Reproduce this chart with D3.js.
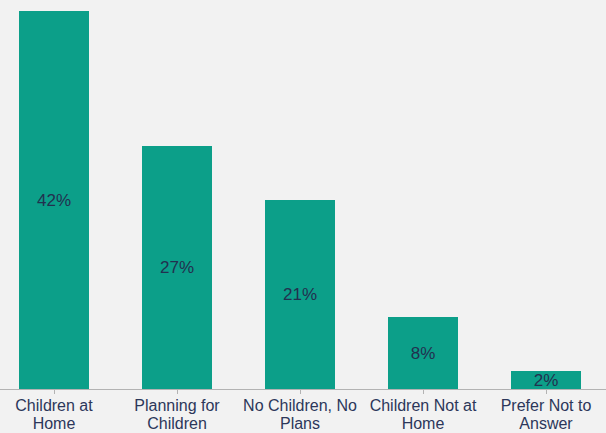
<!DOCTYPE html>
<html>
<head>
<meta charset="utf-8">
<script src="https://cdn.jsdelivr.net/npm/d3@7"></script>
<style>
  html, body { margin: 0; padding: 0; background: #f2f2f2; }
  svg { display: block; }
  text { font-family: "Liberation Sans", Arial, sans-serif; fill: #2c375a; }
</style>
</head>
<body>
<svg id="chart" width="606" height="433"></svg>
<script>
// Survey shares by household children status
const categories = [
  ["Children at", "Home"],
  ["Planning for", "Children"],
  ["No Children, No", "Plans"],
  ["Children Not at", "Home"],
  ["Prefer Not to", "Answer"]
];
const values = [42, 27, 21, 8, 2];
const valueLabels = ["42%", "27%", "21%", "8%", "2%"];

const width = 606, height = 433;
const baseY = 389, topY = 11;
const barColor = "#0c9f89";

const svg = d3.select("#chart");
svg.append("rect").attr("width", width).attr("height", height).attr("fill", "#f2f2f2");

const keys = categories.map((c, i) => i);
const x = d3.scaleBand()
  .domain(keys)
  .range([-7.5, 607.5])
  .paddingInner(0.431)
  .paddingOuter(0.2155);

const y = d3.scaleLinear()
  .domain([0, d3.max(values)])
  .range([baseY, topY]);

// bars
svg.selectAll("rect.bar")
  .data(values)
  .join("rect")
  .attr("class", "bar")
  .attr("x", (d, i) => x(i))
  .attr("width", x.bandwidth())
  .attr("y", d => y(d))
  .attr("height", d => y(0) - y(d))
  .attr("fill", barColor);

// value labels centred in each bar
svg.selectAll("text.val")
  .data(values)
  .join("text")
  .attr("class", "val")
  .attr("x", (d, i) => x(i) + x.bandwidth() / 2)
  .attr("y", d => (y(d) + y(0)) / 2)
  .attr("text-anchor", "middle")
  .attr("dominant-baseline", "central")
  .attr("font-size", 17)
  .style("fill", "#22304f")
  .text((d, i) => valueLabels[i]);

// category axis
const axis = svg.append("g").attr("transform", `translate(0,${baseY})`);
axis.append("line")
  .attr("x1", 0).attr("x2", width)
  .attr("y1", 0.5).attr("y2", 0.5)
  .attr("stroke", "#b3b3b3").attr("stroke-width", 1);
axis.selectAll("line.tick")
  .data(keys)
  .join("line")
  .attr("class", "tick")
  .attr("x1", d => Math.round(x(d) + x.bandwidth() / 2) + 0.5)
  .attr("x2", d => Math.round(x(d) + x.bandwidth() / 2) + 0.5)
  .attr("y1", 0.5).attr("y2", 5)
  .attr("stroke", "#b3b3b3");

const lbl = axis.selectAll("text.cat")
  .data(keys)
  .join("text")
  .attr("class", "cat")
  .attr("text-anchor", "middle")
  .attr("font-size", 16)
  .attr("x", d => x(d) + x.bandwidth() / 2)
  .attr("y", 22);
lbl.selectAll("tspan")
  .data(d => categories[d].map(t => ({ t, d })))
  .join("tspan")
  .attr("x", o => x(o.d) + x.bandwidth() / 2)
  .attr("dy", (o, j) => j === 0 ? 0 : 18)
  .text(o => o.t);
</script>
</body>
</html>
